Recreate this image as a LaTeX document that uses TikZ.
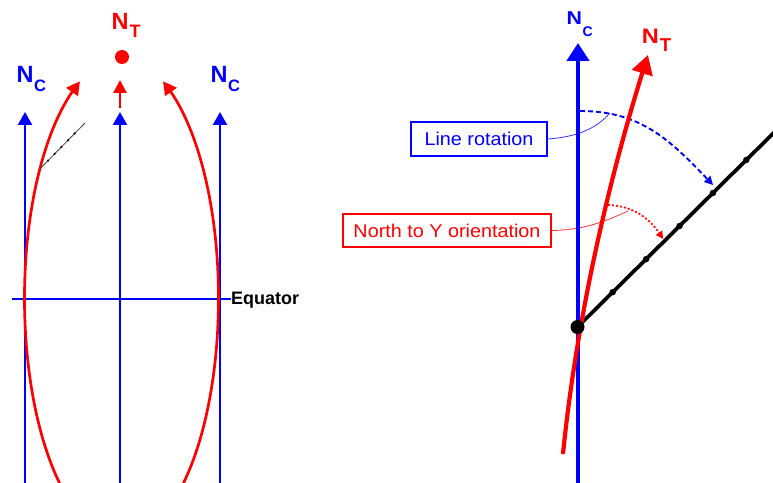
\documentclass[tikz,border=0pt]{standalone}
\usepackage{fontspec}
\setmainfont{Liberation Sans}
\usetikzlibrary{arrows.meta,bending,calc}
\definecolor{pblue}{RGB}{0,0,255}
\definecolor{pred}{RGB}{255,0,0}
\begin{document}
\begin{tikzpicture}[x=1pt,y=1pt,
  blueline/.style={draw=pblue,line width=2.3pt},
  bluearrow/.style={blueline,-{Triangle[width=14pt,length=13pt]}},
  redarc/.style={draw=pred,line width=2.7pt,-{Triangle[width=14pt,length=13pt,bend]}},
  bigblue/.style={draw=pblue,line width=4.5pt,-{Triangle[width=22pt,length=18pt]}},
  bigred/.style={draw=pred,line width=4.2pt,-{Triangle[width=21pt,length=19pt,bend]}},
  lblfont/.style={inner sep=0pt,anchor=base west,font=\bfseries},
  labelbox/.style={draw,line width=1.4pt,inner sep=0pt,font=\fontsize{18.5}{20}\selectfont},
  tickdot/.style={fill=black,circle,inner sep=0pt,minimum size=6.5pt},
  smalldot/.style={fill=black,circle,inner sep=0pt,minimum size=2.4pt}]
\useasboundingbox (0,0) rectangle (773,482);
\begin{scope}
\clip (0,0) rectangle (773,482);
% ---------------- left panel ----------------
\coordinate (L1b) at (25,-3);  \coordinate (L1t) at (25,370);
\coordinate (L2b) at (120,-3); \coordinate (L2t) at (120,370);
\coordinate (L3b) at (220,-3); \coordinate (L3t) at (220,370);
\draw[bluearrow] (L1b) -- (L1t);
\draw[bluearrow] (L2b) -- (L2t);
\draw[bluearrow] (L3b) -- (L3t);
\node[lblfont,font=\bfseries\fontsize{18}{18}\selectfont] (eq) at (231,177.5) {Equator};
\coordinate (Ew) at (12,183.3);
\coordinate (Ee) at (231,183.3);
\draw[blueline] (Ew) -- (Ee);
% red ellipse arcs (centre (121.5,183.5), radii 97 x 240)
\coordinate (ElA) at (61.78,-5.6);
\coordinate (ElB) at (181.22,-5.6);
\draw[redarc] (ElA) arc[start angle=232,end angle=115.3,x radius=97pt,y radius=240pt];
\draw[redarc] (ElB) arc[start angle=-52,end angle=64.7,x radius=97pt,y radius=240pt];
% true north marker
\node[fill=pred,circle,inner sep=0pt,minimum size=14pt] (pole) at (122,425) {};
\coordinate (Ta) at (120,374); \coordinate (Tb) at (120,402);
\draw[draw=pred,line width=2.7pt,-{Triangle[width=13pt,length=13pt]}] (Ta) -- (Tb);
% small dotted line
\coordinate (Sa) at (40.5,313.7); \coordinate (Sb) at (85,359);
\draw[black!75,line width=0.8pt] (Sa) -- (Sb);
\foreach \t in {0.17,0.32,0.47,0.62,0.77}
  \node[smalldot] at ($(Sa)!\t!(Sb)$) {};
% labels
\node[lblfont,text=pred,font=\bfseries\fontsize{23.5}{24}\selectfont] (ntL) at (111.3,452) {N\kern1.2pt\raisebox{-8pt}{\fontsize{18}{18}\selectfont T}};
\node[lblfont,text=pblue,font=\bfseries\fontsize{23.5}{24}\selectfont] (ncL) at (16.3,399) {N\kern0.6pt\raisebox{-9pt}{\fontsize{16.5}{17}\selectfont C}};
\node[lblfont,text=pblue,font=\bfseries\fontsize{23.5}{24}\selectfont] (ncR) at (210.3,399) {N\kern0.6pt\raisebox{-9pt}{\fontsize{16.5}{17}\selectfont C}};
% ---------------- right panel ----------------
\coordinate (O) at (577.5,155);
\coordinate (Vb) at (578,-3); \coordinate (Vt) at (578,439);
% leaders and boxes
\node[labelbox,draw=pblue,text=pblue,minimum width=136pt,minimum height=34pt] (lr) at (479,343) {\scalebox{1.07}[1]{Line rotation}};
\node[labelbox,draw=pred,text=pred,minimum width=208pt,minimum height=33pt] (ny) at (447,251.5) {\scalebox{1.07}[1]{North to Y orientation}};
\coordinate (LRend) at (610,369);
\coordinate (NYend) at (628,271);
\draw[pblue!80,line width=0.8pt] (lr.east) .. controls (575,345) and (595,352) .. (LRend);
\draw[pred!80,line width=0.8pt] (ny.east) .. controls (580,252) and (600,258) .. (NYend);
\draw[bigblue] (Vb) -- (Vt);
% black line with ticks
\coordinate (Far) at ($(O)+(44.7:330)$);
\draw[black,line width=3.7pt] (O) -- (Far);
\foreach \k in {1,...,5}
  \node[tickdot] at ($(O)+(44.7:{47*\k+2.5})$) {};
% rotation arcs
\coordinate (Ba) at (580,371); \coordinate (Bb) at (713,297);
\draw[draw=pblue,line width=1.9pt,dash pattern=on 5pt off 3pt,-{Triangle[width=8.5pt,length=8.5pt,bend]}] (Ba) .. controls (643,371) and (672,340) .. (Bb);
\coordinate (Ra) at (608,277); \coordinate (Rb) at (663,243);
\draw[draw=pred,line width=1.7pt,dash pattern=on 2pt off 2pt,-{Triangle[width=7.5pt,length=7.5pt,bend]}] (Ra) .. controls (635,276) and (652,262) .. (Rb);
% true north (red)
\coordinate (Rs) at (563,28); \coordinate (Rt) at (648,427);
\draw[bigred] (Rs) .. controls (576,159) and (608,303) .. (Rt);
\node[fill=black,circle,inner sep=0pt,minimum size=14pt] (dot) at (O) {};
% labels
\node[lblfont,text=pblue,font=\bfseries\fontsize{18.6}{19}\selectfont] (ncP) at (566.4,457) {\scalebox{1.15}[1]{N}\kern0.6pt\raisebox{-11.7pt}{\fontsize{14}{14}\selectfont C}};
\node[lblfont,text=pred,font=\bfseries\fontsize{21}{21}\selectfont] (ntP) at (641.6,438.7) {\scalebox{1.12}[1]{N}\kern1pt\raisebox{-8.4pt}{\fontsize{18.6}{19}\selectfont T}};
\end{scope}
\end{tikzpicture}
\end{document}
